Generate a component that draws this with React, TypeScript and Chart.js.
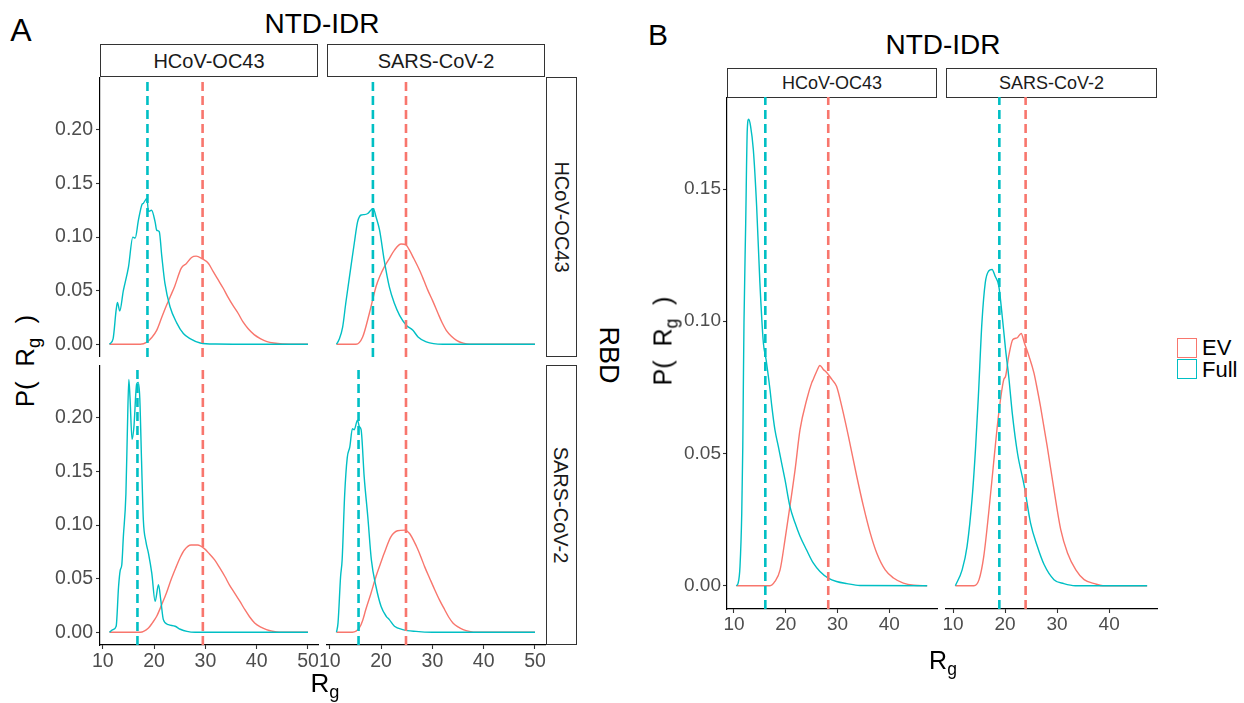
import React, { useEffect, useRef } from 'react';
import { Chart, registerables } from 'chart.js';
Chart.register(...registerables);

type Pt = [number, number];

// ---------- colours / series names ----------
const SERIES = ['EV', 'Full'];
const EV_COLOR = '#F8766D';
const FULL_COLOR = '#00BFC4';

// ---------- tick labels ----------
const A_X_TICKS = [10, 20, 30, 40, 50];
const A_Y_TICKS = [0, 0.05, 0.1, 0.15, 0.2];
const B_X_TICKS = [10, 20, 30, 40];
const B_Y_TICKS = [0, 0.05, 0.1, 0.15];

// facet labels
const NTD_LEVELS = ['HCoV-OC43', 'SARS-CoV-2'];
const RBD_LEVELS = ['HCoV-OC43', 'SARS-CoV-2'];

// ---------- Panel A densities (row = RBD, col = NTD-IDR) ----------
const A_OC43_OC43_FULL: Pt[] = [[11.3,0],[12.0,0.005],[12.6,0.032],[12.85,0.039],[13.3,0.031],[14.0,0.05],[15.0,0.072],[15.85,0.1],[16.3,0.099],[16.95,0.116],[17.6,0.13],[17.9,0.1315],[18.6,0.136],[18.9,0.124],[19.5,0.125],[20.2,0.114],[20.5,0.1065],[21.0,0.105],[21.5,0.082],[22.1,0.057],[23.1,0.035],[24.4,0.02],[25.7,0.01],[27.0,0.0053],[29.0,0.0012],[32,0.0002],[40,0],[50,0]];
const A_OC43_OC43_EV: Pt[] = [[11.3,0],[17.3,0],[18.6,0.002],[19.5,0.006],[20.5,0.013],[21.4,0.024],[22.3,0.035],[23.2,0.045],[24.0,0.054],[25.3,0.071],[26.3,0.0754],[27.3,0.081],[28.2,0.0822],[29.3,0.08],[30.6,0.0754],[31.5,0.068],[32.5,0.06],[33.5,0.052],[34.4,0.044],[35.4,0.036],[36.4,0.0287],[37.3,0.021],[38.3,0.0147],[39.5,0.009],[40.7,0.0053],[42,0.0025],[43.3,0.0012],[46.5,0],[50,0]];
const A_OC43_SARS_FULL: Pt[] = [[11.3,0],[11.8,0.0044],[12.5,0.016],[13.1,0.038],[14.1,0.072],[14.76,0.094],[15.4,0.114],[16.1,0.1206],[16.7,0.121],[17.4,0.122],[18.0,0.125],[18.5,0.1266],[19.0,0.119],[19.7,0.1065],[20.6,0.0785],[21.6,0.0536],[22.6,0.038],[23.6,0.027],[24.9,0.0178],[26.2,0.013],[27.2,0.0068],[28.8,0.0022],[32,0],[50,0]];
const A_OC43_SARS_EV: Pt[] = [[11.3,0],[15.1,0],[16.4,0.0068],[17.7,0.0287],[19.0,0.0536],[19.8,0.064],[20.6,0.072],[21.6,0.08],[22.6,0.0879],[23.9,0.0935],[24.9,0.0925],[25.5,0.088],[26.2,0.0816],[27.5,0.069],[28.3,0.06],[29.1,0.0505],[30.1,0.04],[31.1,0.0287],[31.9,0.02],[32.7,0.013],[33.7,0.0075],[34.7,0.0037],[36,0.001],[37.3,0],[50,0]];
const A_SARS_OC43_FULL: Pt[] = [[11.3,0],[11.97,0.0025],[12.6,0.0056],[13.07,0.0427],[13.4,0.058],[13.7,0.063],[14.0,0.089],[14.5,0.129],[14.8,0.191],[15.07,0.236],[15.3,0.219],[15.7,0.18],[16.05,0.191],[16.6,0.2316],[16.9,0.233],[17.2,0.219],[17.55,0.16],[17.9,0.105],[18.4,0.0845],[18.9,0.0737],[19.55,0.055],[20.2,0.0288],[20.85,0.0443],[21.3,0.03],[21.8,0.0118],[22.8,0.0071],[24.1,0.0056],[25.1,0.0028],[26.4,0.0008],[28,0],[50,0]];
const A_SARS_OC43_EV: Pt[] = [[11.3,0],[17.3,0],[18.9,0.004],[19.7,0.009],[20.5,0.0149],[21.5,0.026],[22.4,0.0366],[23.3,0.049],[24.3,0.061],[25.1,0.07],[25.9,0.0768],[27.2,0.0814],[28.5,0.0814],[29.8,0.078],[30.8,0.073],[31.8,0.0675],[32.8,0.06],[33.8,0.052],[34.7,0.044],[35.7,0.0366],[36.7,0.029],[37.7,0.021],[38.6,0.0145],[39.6,0.0087],[40.7,0.005],[41.9,0.0025],[43,0.001],[44.4,0],[50,0]];
const A_SARS_SARS_FULL: Pt[] = [[11.3,0],[11.6,0.0087],[12.1,0.052],[12.4,0.0675],[12.9,0.129],[13.4,0.163],[13.9,0.173],[14.4,0.19],[14.76,0.189],[15.4,0.198],[15.75,0.192],[16.1,0.189],[16.7,0.145],[17.4,0.108],[18.1,0.0675],[19.0,0.0427],[20.0,0.024],[21.0,0.0149],[21.6,0.0118],[22.6,0.0056],[24.2,0.0025],[26.8,0.0008],[30,0],[50,0]];
const A_SARS_SARS_EV: Pt[] = [[11.3,0],[14.4,0],[15.75,0.004],[16.4,0.011],[17.0,0.021],[18.0,0.036],[19.0,0.052],[19.8,0.063],[20.6,0.0737],[21.9,0.089],[23.2,0.0947],[24.6,0.0953],[25.55,0.0922],[26.9,0.08],[27.7,0.071],[28.5,0.061],[29.5,0.05],[30.45,0.0397],[31.4,0.03],[32.4,0.021],[33.2,0.014],[34.0,0.0087],[35,0.005],[36.0,0.0025],[37.2,0.0008],[38.6,0],[50,0]];

// mean lines, panel A: [EV, Full]
const A_OC43_OC43_MEANS = [29.45, 18.7];
const A_OC43_SARS_MEANS = [24.85, 18.4];
const A_SARS_OC43_MEANS = [29.5, 16.75];
const A_SARS_SARS_MEANS = [24.85, 15.6];

// ---------- Panel B densities ----------
const B_OC43_FULL: Pt[] = [[10.45,0],[10.8,0.001],[11.16,0.0073],[11.5,0.0275],[11.7,0.0527],[11.8,0.074],[11.93,0.0994],[12.26,0.137],[12.57,0.1726],[12.84,0.1764],[13.2,0.1738],[13.73,0.165],[14.37,0.1436],[15.0,0.1146],[15.67,0.0919],[16.2,0.0855],[16.95,0.0742],[17.3,0.0679],[17.9,0.059],[18.56,0.0527],[19.2,0.0464],[19.85,0.0401],[20.8,0.03],[21.8,0.0237],[22.75,0.0187],[24.0,0.0136],[25.3,0.0086],[26.6,0.0054],[28.2,0.0029],[29.8,0.0016],[31.8,0.0008],[34.3,0.0001],[47.3,0]];
const B_OC43_EV: Pt[] = [[10.45,0],[16.95,0],[17.9,0.0016],[18.9,0.006],[19.85,0.0174],[20.8,0.03],[21.8,0.0439],[22.75,0.059],[24.05,0.0704],[25.0,0.0767],[25.3,0.078],[25.97,0.0811],[26.6,0.0833],[27.25,0.0818],[27.9,0.0806],[28.9,0.078],[29.8,0.0754],[30.8,0.0679],[32.1,0.0565],[33.7,0.0414],[35.0,0.03],[36.3,0.02],[37.56,0.0124],[39.2,0.006],[40.8,0.0029],[42.7,0.001],[44.7,0.0002],[47.3,0]];
const B_SARS_FULL: Pt[] = [[10.45,0],[11.75,0.006],[12.7,0.0149],[13.7,0.0338],[14.35,0.0527],[14.87,0.0716],[15.55,0.0994],[16.2,0.1146],[16.85,0.119],[17.5,0.1196],[18.1,0.117],[18.8,0.1133],[19.45,0.102],[20.1,0.0893],[20.7,0.0792],[21.4,0.065],[22.4,0.05],[23.7,0.0376],[24.9,0.0237],[26.2,0.0149],[27.5,0.008],[29.4,0.0023],[31.3,0.0008],[33.5,0],[47.3,0]];
const B_SARS_EV: Pt[] = [[10.45,0],[14.0,0],[15.0,0.0023],[15.9,0.011],[16.85,0.0275],[17.8,0.0464],[18.8,0.0654],[19.76,0.078],[20.1,0.0792],[20.7,0.0868],[21.5,0.0931],[22.3,0.0937],[23.1,0.0954],[23.7,0.0919],[24.6,0.0868],[25.55,0.0805],[26.2,0.0742],[26.8,0.0679],[28.1,0.0527],[29.4,0.0363],[30.7,0.0212],[32.0,0.0124],[33.6,0.006],[35.2,0.0023],[37.2,0.0008],[38.8,0],[47.3,0]];

const B_OC43_MEANS = [28.2, 16.05];
const B_SARS_MEANS = [23.95, 18.9];

// ---------- layout ----------
const FONT = '"Liberation Sans", Arial, sans-serif';
const AXIS_L = 50;
const AXIS_B = 32;
const SIDE = 14;

type PanelProps = {
  left: number; top: number; width: number; height: number;
  xMin: number; xMax: number; yMin: number; yMax: number;
  showX: boolean; showY: boolean;
  xTicks: number[]; yTicks: number[];
  ev: Pt[]; full: Pt[]; means: number[];
  tickSize: number; xPad: number; yPad: number;
};

function Panel(p: PanelProps) {
  const ref = useRef<HTMLCanvasElement | null>(null);
  const padL = p.showY ? 0 : SIDE;
  const cl = p.left - (p.showY ? AXIS_L : SIDE);
  const cw = p.width + (p.showY ? AXIS_L : SIDE) + SIDE;
  const ch = p.height + (p.showX ? AXIS_B : 0);
  useEffect(() => {
    if (!ref.current) return;
    const toXY = (arr: Pt[]) => arr.map(([x, y]) => ({ x, y }));
    const vline = (v: number) => [{ x: v, y: p.yMin }, { x: v, y: p.yMax }];
    const tickFont = { family: FONT, size: p.tickSize };
    const chart = new Chart(ref.current, {
      type: 'line',
      data: {
        datasets: [
          { label: SERIES[1] + ' mean', data: vline(p.means[1]), borderColor: FULL_COLOR, borderWidth: 2.6, borderDash: [9, 5], pointRadius: 0, order: 0 } as any,
          { label: SERIES[0] + ' mean', data: vline(p.means[0]), borderColor: EV_COLOR, borderWidth: 2.6, borderDash: [9, 5], pointRadius: 0, order: 0 } as any,
          { label: SERIES[1], data: toXY(p.full), borderColor: FULL_COLOR, borderWidth: 1.4, pointRadius: 0, cubicInterpolationMode: 'monotone', order: 1 } as any,
          { label: SERIES[0], data: toXY(p.ev), borderColor: EV_COLOR, borderWidth: 1.4, pointRadius: 0, cubicInterpolationMode: 'monotone', order: 2 } as any,
        ],
      },
      options: {
        animation: false,
        responsive: false,
        maintainAspectRatio: false,
        devicePixelRatio: 1,
        events: [],
        layout: { padding: { left: padL, right: SIDE, top: 0, bottom: 0 } },
        plugins: { legend: { display: false }, tooltip: { enabled: false } },
        scales: {
          x: {
            type: 'linear', min: p.xMin, max: p.xMax, display: p.showX,
            afterBuildTicks: (s: any) => { s.ticks = p.xTicks.map((v) => ({ value: v })); },
            afterFit: (s: any) => {
              s.paddingLeft = 0; s.paddingRight = 0;
              s.height = p.showX ? AXIS_B : 0;
            },
            ticks: { color: '#4D4D4D', font: tickFont, padding: p.xPad, maxRotation: 0, autoSkip: false, callback: (v: any) => String(v) },
            grid: { display: true, drawOnChartArea: false, drawTicks: true, tickLength: 4, tickColor: '#333333', tickWidth: 1.1 },
            border: { display: true, color: '#000000', width: 1.2 },
          },
          y: {
            type: 'linear', min: p.yMin, max: p.yMax, display: p.showY,
            afterBuildTicks: (s: any) => { s.ticks = p.yTicks.map((v) => ({ value: v })); },
            afterFit: (s: any) => {
              s.paddingTop = 0; s.paddingBottom = 0;
              s.width = p.showY ? AXIS_L : 0;
            },
            ticks: { color: '#4D4D4D', font: tickFont, padding: p.yPad, autoSkip: false, callback: (v: any) => Number(v).toFixed(2) },
            grid: { display: true, drawOnChartArea: false, drawTicks: true, tickLength: 4, tickColor: '#333333', tickWidth: 1.1 },
            border: { display: true, color: '#000000', width: 1.2 },
          },
        },
      } as any,
    });
    return () => chart.destroy();
  }, []);
  return (
    <canvas
      ref={ref}
      width={cw}
      height={ch}
      style={{ position: 'absolute', left: cl, top: p.top, width: cw, height: ch }}
    />
  );
}

function Txt(props: { x: number; y: number; size: number; rot?: number; color?: string; children: any }) {
  return (
    <div
      style={{
        position: 'absolute', left: props.x, top: props.y,
        transform: `translate(-50%, -50%) rotate(${props.rot || 0}deg)`,
        fontFamily: FONT, fontSize: props.size, color: props.color || '#000000',
        whiteSpace: 'nowrap', lineHeight: 1,
      }}
    >
      {props.children}
    </div>
  );
}

function Strip(props: { left: number; top: number; width: number; height: number; size: number; vertical?: boolean; text: string }) {
  return (
    <div
      style={{
        position: 'absolute', left: props.left, top: props.top, width: props.width, height: props.height,
        border: '1.2px solid #333333', boxSizing: 'border-box', background: '#ffffff',
        display: 'flex', alignItems: 'center', justifyContent: 'center',
      }}
    >
      <span style={{ fontFamily: FONT, fontSize: props.size, color: '#1A1A1A', whiteSpace: 'nowrap', lineHeight: 1, transform: props.vertical ? 'rotate(90deg)' : 'none', display: 'inline-block' }}>
        {props.text}
      </span>
    </div>
  );
}

const RgLabel = () => (
  <span>R<span style={{ fontSize: '0.7em', position: 'relative', top: '0.35em' }}>g</span></span>
);
const PLabel = () => (
  <span>P(&nbsp; R<span style={{ fontSize: '0.7em', position: 'relative', top: '0.35em' }}>g</span>&nbsp; )</span>
);

export default function App() {
  // panel A geometry
  const aCols = [100, 327];
  const aRows = [77, 365];
  const aW = 218, aH = 280;
  const aX = { xMin: 9.45, xMax: 51.95, yMin: -0.0119, yMax: 0.2494 };
  const aData = [
    [[A_OC43_OC43_EV, A_OC43_OC43_FULL, A_OC43_OC43_MEANS], [A_OC43_SARS_EV, A_OC43_SARS_FULL, A_OC43_SARS_MEANS]],
    [[A_SARS_OC43_EV, A_SARS_OC43_FULL, A_SARS_OC43_MEANS], [A_SARS_SARS_EV, A_SARS_SARS_FULL, A_SARS_SARS_MEANS]],
  ] as any;
  // panel B geometry
  const bCols = [727, 946];
  const bTop = 97, bW = 211, bH = 512;
  const bX = { xMin: 8.65, xMax: 49.2, yMin: -0.0088, yMax: 0.1848 };
  const bData = [[B_OC43_EV, B_OC43_FULL, B_OC43_MEANS], [B_SARS_EV, B_SARS_FULL, B_SARS_MEANS]] as any;

  return (
    <div style={{ position: 'absolute', left: 0, top: 0, width: 1244, height: 703, background: '#ffffff', overflow: 'hidden' }}>
      {/* ---- A ---- */}
      <Txt x={21} y={30} size={32}>A</Txt>
      <Txt x={322} y={24} size={28}>NTD-IDR</Txt>
      {NTD_LEVELS.map((t, i) => (
        <Strip key={'as' + i} left={aCols[i]} top={44} width={aW} height={33} size={20} text={t} />
      ))}
      {RBD_LEVELS.map((t, i) => (
        <Strip key={'ar' + i} left={546} top={aRows[i]} width={31} height={aH} size={20} vertical text={t} />
      ))}
      {aRows.map((top, r) => aCols.map((left, c) => (
        <Panel key={`a${r}${c}`} left={left} top={top} width={aW} height={aH}
          {...aX} showX={r === 1} showY={c === 0} xTicks={A_X_TICKS} yTicks={A_Y_TICKS}
          ev={aData[r][c][0]} full={aData[r][c][1]} means={aData[r][c][2]}
          tickSize={19.5} xPad={1} yPad={3} />
      )))}
      <Txt x={608} y={355} size={27} rot={90}>RBD</Txt>
      <Txt x={25} y={361} size={26} rot={-90}><PLabel /></Txt>
      <Txt x={325} y={683} size={26}><RgLabel /></Txt>

      {/* ---- B ---- */}
      <Txt x={658} y={35} size={30}>B</Txt>
      <Txt x={943} y={45} size={28}>NTD-IDR</Txt>
      {NTD_LEVELS.map((t, i) => (
        <Strip key={'bs' + i} left={bCols[i]} top={68} width={i === 0 ? 210 : bW} height={30} size={18} text={t} />
      ))}
      {bCols.map((left, c) => (
        <Panel key={`b${c}`} left={left} top={bTop} width={c === 0 ? 210 : bW} height={bH}
          {...bX} showX={true} showY={c === 0} xTicks={B_X_TICKS} yTicks={B_Y_TICKS}
          ev={bData[c][0]} full={bData[c][1]} means={bData[c][2]}
          tickSize={19} xPad={0} yPad={2} />
      ))}
      <Txt x={663} y={341} size={25} rot={-90}><PLabel /></Txt>
      <Txt x={943} y={660} size={25}><RgLabel /></Txt>

      {/* legend */}
      <div style={{ position: 'absolute', left: 1177, top: 338, width: 20, height: 20, border: `1.5px solid ${EV_COLOR}`, boxSizing: 'border-box' }} />
      <div style={{ position: 'absolute', left: 1177, top: 359, width: 20, height: 20, border: `1.5px solid ${FULL_COLOR}`, boxSizing: 'border-box' }} />
      <div style={{ position: 'absolute', left: 1202, top: 348, transform: 'translateY(-50%)', fontFamily: FONT, fontSize: 22, lineHeight: 1 }}>{SERIES[0]}</div>
      <div style={{ position: 'absolute', left: 1202, top: 370, transform: 'translateY(-50%)', fontFamily: FONT, fontSize: 22, lineHeight: 1 }}>{SERIES[1]}</div>
    </div>
  );
}
